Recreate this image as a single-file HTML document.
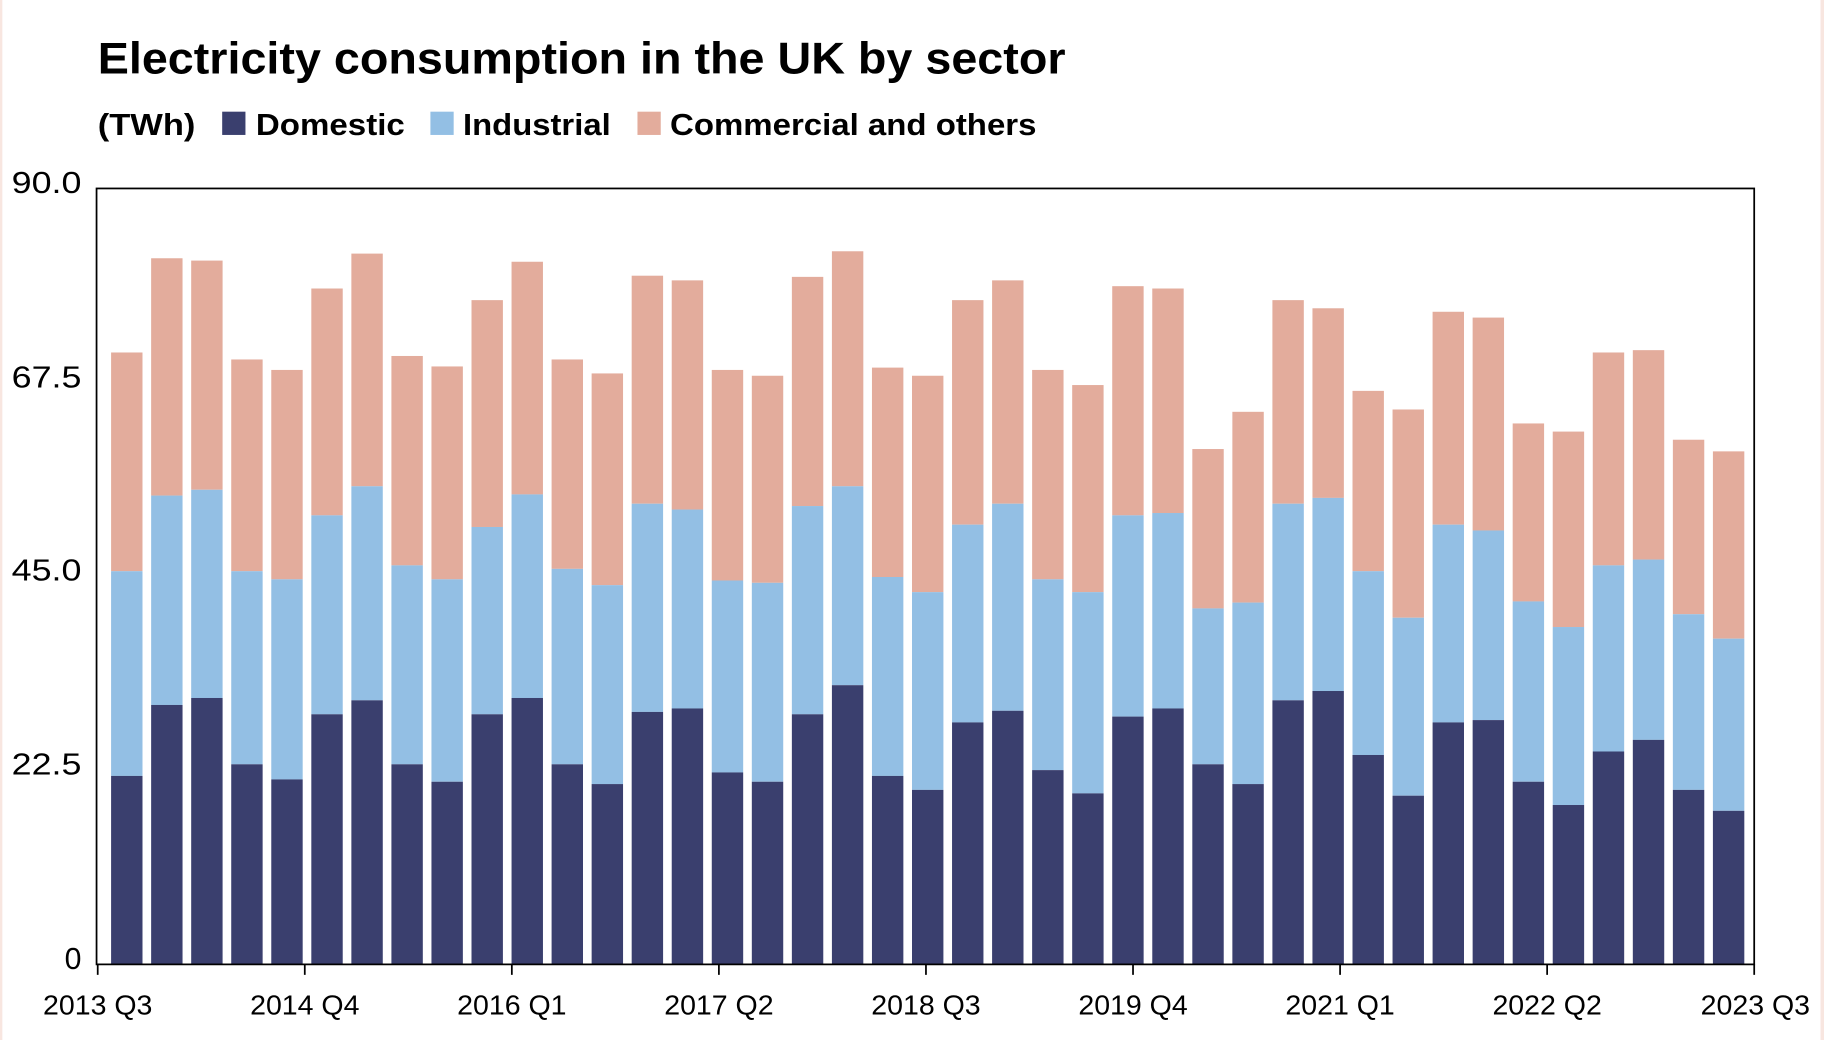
<!DOCTYPE html>
<html><head><meta charset="utf-8"><style>html,body{margin:0;padding:0;background:#fff}svg{display:block}</style></head>
<body>
<svg id="s" width="1824" height="1040" viewBox="0 0 1568 894" preserveAspectRatio="none" xmlns="http://www.w3.org/2000/svg" font-family="Liberation Sans, sans-serif">
<rect x="0" y="0" width="1568" height="894" fill="#fff"/>
<rect x="0" y="0" width="2" height="894" fill="#f8e6e0"/>
<rect x="1565" y="0" width="3" height="894" fill="#f8e6e0"/>
<text x="84" y="63" font-size="38" font-weight="bold" textLength="832" lengthAdjust="spacingAndGlyphs">Electricity consumption in the UK by sector</text>
<g font-size="26" font-weight="bold">
<text x="84" y="116" textLength="84" lengthAdjust="spacingAndGlyphs">(TWh)</text>
<rect x="191" y="96" width="20" height="20" fill="#3a3f6e"/>
<text x="220" y="116" textLength="128" lengthAdjust="spacingAndGlyphs">Domestic</text>
<rect x="370" y="96" width="20" height="20" fill="#93bfe4"/>
<text x="398" y="116" textLength="127" lengthAdjust="spacingAndGlyphs">Industrial</text>
<rect x="548" y="96" width="20" height="20" fill="#e3ac9c"/>
<text x="576" y="116" textLength="315" lengthAdjust="spacingAndGlyphs">Commercial and others</text>
</g>
<g id="bars"></g>
<rect x="83" y="162" width="1425" height="667" fill="none" stroke="#000" stroke-width="1.5"/>
<g stroke="#000" stroke-width="1.5" id="ticks"></g>
<g font-size="26" text-anchor="end">
<text x="70" y="166" textLength="60" lengthAdjust="spacingAndGlyphs">90.0</text>
<text x="70" y="333" textLength="60" lengthAdjust="spacingAndGlyphs">67.5</text>
<text x="70" y="499" textLength="60" lengthAdjust="spacingAndGlyphs">45.0</text>
<text x="70" y="666" textLength="60" lengthAdjust="spacingAndGlyphs">22.5</text>
<text x="70" y="833">0</text>
</g>
<g font-size="24" text-anchor="middle" id="xl"></g>
</svg>
<script>
var d=[[667,491,303],[606,426,222],[600,421,224],[657,491,309],[670,498,318],[614,443,248],[602,418,218],[657,486,306],[672,498,315],[614,453,258],[600,425,225],[657,489,309],[674,503,321],[612,433,237],[609,438,241],[664,499,318],[672,501,323],[614,435,238],[589,418,216],[667,496,316],[679,509,323],[621,451,258],[611,433,241],[662,498,318],[682,509,331],[616,443,246],[609,441,248],[657,523,386],[674,518,354],[602,433,258],[594,428,265],[649,491,336],[684,531,352],[621,451,268],[619,456,273],[672,517,364],[692,539,371],[646,486,303],[636,481,301],[679,528,378],[697,549,388]];
var ns="http://www.w3.org/2000/svg",g=document.getElementById('bars');
function r(x,y,w,h,c){var e=document.createElementNS(ns,'rect');e.setAttribute('x',x);e.setAttribute('y',y);e.setAttribute('width',w);e.setAttribute('height',h);e.setAttribute('fill',c);g.appendChild(e);}
d.forEach(function(b,i){var cx=109+i*34.425,x=cx-13.5;
r(x,b[2],27,b[1]-b[2],'#e3ac9c');r(x,b[1],27,b[0]-b[1],'#93bfe4');r(x,b[0],27,829-b[0],'#3a3f6e');});
var t=document.getElementById('ticks'),xl=document.getElementById('xl');
var labs=['2013 Q3','2014 Q4','2016 Q1','2017 Q2','2018 Q3','2019 Q4','2021 Q1','2022 Q2','2023 Q3'];
labs.forEach(function(l,i){var x=84+i*178;var e=document.createElementNS(ns,'line');e.setAttribute('x1',x);e.setAttribute('x2',x);e.setAttribute('y1',829);e.setAttribute('y2',838);t.appendChild(e);
var tx=document.createElementNS(ns,'text');tx.setAttribute('x',i==8?1509:x);tx.setAttribute('y',872);tx.setAttribute('textLength',94);tx.setAttribute('lengthAdjust','spacingAndGlyphs');tx.textContent=l;xl.appendChild(tx);});
</script>
</body></html>
